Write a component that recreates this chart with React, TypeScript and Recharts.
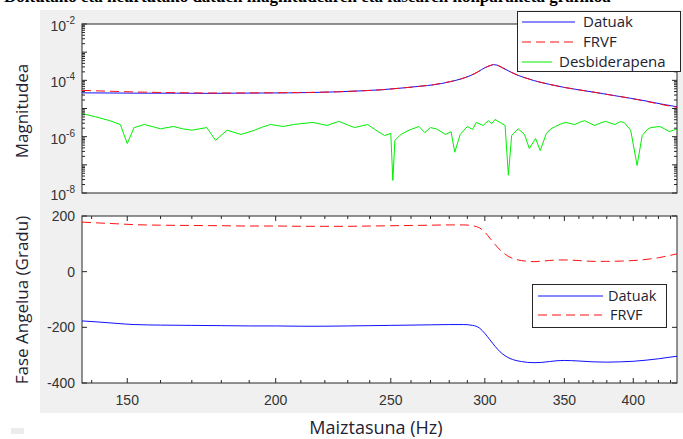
import React from "react";
import { LineChart, Line, XAxis, YAxis } from "recharts";

// magnitude (Datuak / FRVF share the same frequency grid)
const magFreqs = [137.4, 145, 155, 165, 175, 185, 195, 205, 215, 225, 235, 245, 255, 265, 272, 280, 286, 292, 296, 300, 303, 305, 307, 309, 312, 316, 320, 326, 333, 340, 350, 360, 372, 385, 398, 410, 422, 435.4];
const magDatuak = [3.6e-5, 3.55e-5, 3.5e-5, 3.5e-5, 3.45e-5, 3.5e-5, 3.55e-5, 3.6e-5, 3.7e-5, 3.9e-5, 4.2e-5, 4.6e-5, 5.3e-5, 6.2e-5, 7.0e-5, 8.8e-5, 1.1e-4, 1.5e-4, 2.0e-4, 2.8e-4, 3.3e-4, 3.6e-4, 3.5e-4, 3.1e-4, 2.5e-4, 1.9e-4, 1.5e-4, 1.15e-4, 8.8e-5, 7.2e-5, 5.6e-5, 4.6e-5, 3.7e-5, 2.9e-5, 2.3e-5, 1.85e-5, 1.45e-5, 1.15e-5];
const magFrvf = [4.4e-5, 4.1e-5, 3.8e-5, 3.65e-5, 3.55e-5, 3.55e-5, 3.6e-5, 3.65e-5, 3.75e-5, 3.9e-5, 4.2e-5, 4.6e-5, 5.3e-5, 6.2e-5, 7.1e-5, 8.9e-5, 1.1e-4, 1.5e-4, 2.0e-4, 2.8e-4, 3.35e-4, 3.6e-4, 3.5e-4, 3.1e-4, 2.5e-4, 1.9e-4, 1.5e-4, 1.15e-4, 8.9e-5, 7.2e-5, 5.6e-5, 4.6e-5, 3.7e-5, 2.9e-5, 2.3e-5, 1.8e-5, 1.4e-5, 1.1e-5];

// desbiderapena (deviation)
const devFreqs = [137.4, 141, 145, 148, 150, 152, 155, 158, 160, 164, 167, 170, 175, 178, 182, 187, 192, 195, 198, 203, 207, 210, 215, 221, 226, 230, 233, 239, 244, 247, 250, 251, 252, 255, 259, 264, 267, 270, 273, 278, 281, 283, 286, 290, 293, 295, 299, 302, 304, 306, 309, 312, 314, 316, 320, 324, 327, 331, 334, 338, 341, 344, 348, 351, 357, 361, 364, 371, 375, 379, 386, 390, 393, 398, 403, 407, 411, 414, 421, 425, 429, 435.4];
const devValues = [6.6e-6, 5.1e-6, 3.7e-6, 2.7e-6, 5.7e-7, 2.1e-6, 2.7e-6, 2.2e-6, 1.9e-6, 2.3e-6, 1.9e-6, 1.7e-6, 2.1e-6, 7.4e-7, 1.7e-6, 1.2e-6, 1.7e-6, 2.2e-6, 2.7e-6, 2.3e-6, 2.7e-6, 2.9e-6, 3.2e-6, 2.5e-6, 3.5e-6, 2.6e-6, 2.1e-6, 2.7e-6, 1.5e-6, 1.1e-6, 1.3e-6, 2.8e-8, 7.4e-7, 1.2e-6, 1.7e-6, 2.3e-6, 1.4e-6, 2.1e-6, 1.9e-6, 1.2e-6, 1.5e-6, 2.8e-7, 1.2e-6, 2.3e-6, 1.8e-6, 3.2e-6, 2.5e-6, 3.7e-6, 2.9e-6, 4.1e-6, 3.2e-6, 2.5e-6, 4.3e-8, 1.1e-6, 1.9e-6, 1.2e-6, 3.8e-7, 8.6e-7, 3.2e-7, 1.3e-6, 1.9e-6, 2.3e-6, 2.9e-6, 3.2e-6, 2.7e-6, 3.3e-6, 3.7e-6, 2.5e-6, 3.0e-6, 3.5e-6, 2.7e-6, 3.4e-6, 3.2e-6, 1.7e-6, 9.5e-8, 1.1e-6, 1.8e-6, 2.1e-6, 2.3e-6, 1.9e-6, 1.5e-6, 1.9e-6];

// phase in degrees
const phaseFreqs = [137.4, 142, 147, 152, 160, 170, 180, 190, 200, 210, 220, 230, 240, 250, 260, 270, 280, 288, 293, 297, 300, 303, 306, 309, 312, 315, 318, 322, 326, 330, 335, 340, 345, 350, 360, 370, 380, 390, 400, 410, 420, 428, 435.4];
const phaseDatuak = [-177, -181, -186, -190, -192, -193, -194, -195, -195, -196, -196, -195, -194, -193, -192, -191, -190, -190, -193, -203, -222, -245, -268, -288, -302, -312, -318, -323, -326, -327, -326, -323, -320, -319, -321, -324, -325, -324, -322, -318, -313, -308, -304];
const phaseFrvf = [178, 175, 172, 169, 167, 166, 165, 164, 164, 163, 163, 163, 164, 165, 166, 167, 168, 168, 165, 157, 142, 120, 98, 78, 63, 52, 45, 40, 37, 36, 38, 40, 42, 42, 40, 37, 37, 38, 40, 44, 50, 57, 64];

const xLabels = [150, 200, 250, 300, 350, 400];
const xTicks = [140, 150, 160, 170, 180, 190, 200, 210, 220, 230, 240, 250, 260, 270, 280, 290, 300, 310, 320, 330, 340, 350, 360, 370, 380, 390, 400, 410, 420, 430];
const phaseTicks = [-400, -200, 0, 200];

const magTicks: number[] = [];
for (let e = -8; e < -2; e++) for (let k = 1; k < 10; k++) magTicks.push(k * Math.pow(10, e));
magTicks.push(1e-2);

const magRows = magFreqs.map((f, i) => ({ f, datuak: magDatuak[i], frvf: magFrvf[i] }));
const devRows = devFreqs.map((f, i) => ({ f, dev: devValues[i] }));
const phaseRows = phaseFreqs.map((f, i) => ({ f, datuak: phaseDatuak[i], frvf: phaseFrvf[i] }));

const AX = "#262626";
const BLUE = "#1010ff";
const RED = "#ff1010";
const GREEN = "#00f000";
const TICK_FONT = "'Liberation Sans', Arial, sans-serif";
const LABEL_FONT = "'Open Sans', 'Noto Sans', sans-serif";
const PL = 82;
const PW = 595;
const TOP = { y: 24, h: 169 };
const BOT = { y: 216, h: 167 };
const TOP_H = 215;
const XAX_H = 30;

const makeXTick = (plotH: number, labels: boolean) => (p: any) => {
  const x = Number(p.x);
  const y = Number(p.y);
  const v = Number(p.payload.value);
  const major = xLabels.indexOf(v) >= 0;
  const len = major ? 5 : 3;
  return (
    <g>
      <line x1={x} x2={x} y1={y} y2={y - len} stroke={AX} />
      <line x1={x} x2={x} y1={y - plotH} y2={y - plotH + len} stroke={AX} />
      {labels && major && (
        <text x={x} y={y + 22} textAnchor="middle" fontSize={14} fill="#333" fontFamily={TICK_FONT}>
          {String(v)}
        </text>
      )}
    </g>
  );
};

const MagYTick = (p: any) => {
  const x = Number(p.x);
  const y = Number(p.y);
  const v = Number(p.payload.value);
  const e = Math.round(Math.log10(v));
  const decade = Math.abs(v - Math.pow(10, e)) < v * 1e-6;
  const len = decade ? 5 : 3;
  return (
    <g>
      <line x1={x} x2={x + len} y1={y} y2={y} stroke={AX} />
      <line x1={x + PW} x2={x + PW - len} y1={y} y2={y} stroke={AX} />
      {decade && e % 2 === 0 ? (
        <text x={x - 7} y={y + 7} textAnchor="end" fontSize={14} fill="#333" fontFamily={TICK_FONT}>
          10<tspan dy={-7} fontSize={10}>{e}</tspan>
        </text>
      ) : null}
    </g>
  );
};

const PhaseYTick = (p: any) => {
  const x = Number(p.x);
  const y = Number(p.y);
  return (
    <g>
      <line x1={x} x2={x + 5} y1={y} y2={y} stroke={AX} />
      <line x1={x + PW} x2={x + PW - 5} y1={y} y2={y} stroke={AX} />
      <text x={x - 7} y={y + 5} textAnchor="end" fontSize={14} fill="#333" fontFamily={TICK_FONT}>
        {p.payload.value}
      </text>
    </g>
  );
};

const abs = (top: number): React.CSSProperties => ({ position: "absolute", left: 0, top });

export default function App() {
  return (
    <div style={{ position: "absolute", left: 0, top: 0, width: 683, height: 439, background: "#fff", overflow: "hidden" }}>
      <svg width={683} height={439} style={abs(0)}>
        <text x={4} y={2} fontSize={17} fontWeight="bold" fontFamily="'Liberation Serif', serif" fill="#000">
          Doitutako eta neurtutako datuen magnitudearen eta fasearen konparaketa grafikoa
        </text>
        <rect x={40} y={10} width={643} height={403} fill="#f0f0f0" />
        <rect x={11} y={428} width={13} height={6} fill="#ececec" />
        <rect x={PL} y={TOP.y} width={PW} height={TOP.h} fill="#fff" stroke={AX} />
        <rect x={PL} y={BOT.y} width={PW} height={BOT.h} fill="#fff" stroke={AX} />
      </svg>

      <div style={abs(0)}>
        <LineChart width={683} height={TOP_H} margin={{ top: TOP.y, right: 683 - PL - PW, bottom: TOP_H - TOP.y - TOP.h, left: 0 }}>
          <XAxis
            dataKey="f"
            type="number"
            scale="log"
            domain={[137.4, 435.4]}
            allowDataOverflow
            ticks={xTicks}
            interval={0}
            height={0}
            tickSize={0}
            tickMargin={0}
            axisLine={false}
            tickLine={false}
            tick={makeXTick(TOP.h, false)}
          />
          <YAxis
            type="number"
            scale="log"
            domain={[1e-8, 1e-2]}
            allowDataOverflow
            ticks={magTicks}
            interval={0}
            width={PL}
            tickSize={0}
            tickMargin={0}
            axisLine={false}
            tickLine={false}
            tick={MagYTick}
          />
          <Line data={magRows} dataKey="datuak" type="monotone" stroke={BLUE} strokeWidth={1} dot={false} isAnimationActive={false} />
          <Line data={magRows} dataKey="frvf" type="monotone" stroke={RED} strokeWidth={1} strokeDasharray="9 5" dot={false} isAnimationActive={false} />
          <Line data={devRows} dataKey="dev" type="linear" stroke={GREEN} strokeWidth={1} dot={false} isAnimationActive={false} />
        </LineChart>
      </div>

      <div style={abs(0)}>
        <LineChart width={683} height={439} margin={{ top: BOT.y, right: 683 - PL - PW, bottom: 439 - BOT.y - BOT.h - XAX_H, left: 0 }}>
          <XAxis
            dataKey="f"
            type="number"
            scale="log"
            domain={[137.4, 435.4]}
            allowDataOverflow
            ticks={xTicks}
            interval={0}
            height={XAX_H}
            tickSize={0}
            tickMargin={0}
            axisLine={false}
            tickLine={false}
            tick={makeXTick(BOT.h, true)}
          />
          <YAxis
            type="number"
            domain={[-400, 200]}
            allowDataOverflow
            ticks={phaseTicks}
            interval={0}
            width={PL}
            tickSize={0}
            tickMargin={0}
            axisLine={false}
            tickLine={false}
            tick={PhaseYTick}
          />
          <Line data={phaseRows} dataKey="datuak" type="monotone" stroke={BLUE} strokeWidth={1} dot={false} isAnimationActive={false} />
          <Line data={phaseRows} dataKey="frvf" type="monotone" stroke={RED} strokeWidth={1} strokeDasharray="9 5" dot={false} isAnimationActive={false} />
        </LineChart>
      </div>

      <svg width={683} height={439} style={{ ...abs(0), pointerEvents: "none" }}>
        <g fontFamily={LABEL_FONT} fill="#1e2233">
          <text transform="translate(28,111) rotate(-90)" textAnchor="middle" fontSize={17}>Magnitudea</text>
          <text transform="translate(28,300) rotate(-90)" textAnchor="middle" fontSize={17}>Fase Angelua (Gradu)</text>
          <text x={376} y={434} textAnchor="middle" fontSize={18}>Maiztasuna (Hz)</text>
        </g>

        <g transform="translate(517,11)" fontFamily={LABEL_FONT} fontSize={15} fill="#1e2233">
          <rect x={0.5} y={0.5} width={163} height={60} fill="#fff" stroke={AX} />
          <line x1={5} x2={58} y1={11} y2={11} stroke={BLUE} />
          <text x={66} y={16}>Datuak</text>
          <line x1={5} x2={57} y1={31} y2={31} stroke={RED} strokeDasharray="9 5" />
          <text x={66} y={36}>FRVF</text>
          <line x1={5} x2={35} y1={51} y2={51} stroke={GREEN} />
          <text x={42} y={56}>Desbiderapena</text>
        </g>

        <g transform="translate(532,284)" fontFamily={LABEL_FONT} fontSize={14.5} fill="#1e2233">
          <rect x={0.5} y={0.5} width={134} height={43} fill="#fff" stroke={AX} />
          <line x1={6} x2={71} y1={12} y2={12} stroke={BLUE} />
          <text x={76} y={17}>Datuak</text>
          <line x1={6} x2={70} y1={31} y2={31} stroke={RED} strokeDasharray="9 5" />
          <text x={78} y={36}>FRVF</text>
        </g>
      </svg>
    </div>
  );
}
